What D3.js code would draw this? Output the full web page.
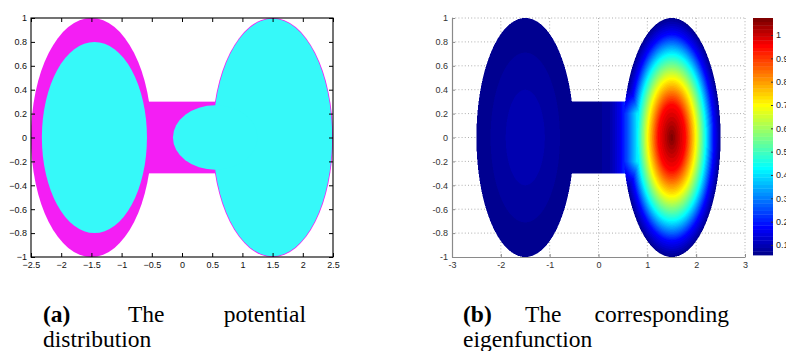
<!DOCTYPE html>
<html>
<head>
<meta charset="utf-8">
<script src="https://cdn.jsdelivr.net/npm/d3@7"></script>
<style>
  body { margin: 0; background: #fff; }
  svg { display: block; }
  .tick text { font-family: "Liberation Sans", Arial, sans-serif; font-size: 9px; }
  .cap { font-family: "Liberation Serif", "Times New Roman", serif; font-size: 23.5px; fill: #000; }
</style>
</head>
<body>
<svg id="fig" width="786" height="351"></svg>
<script>
// tick values
const xTicksA = [-2.5, -2, -1.5, -1, -0.5, 0, 0.5, 1, 1.5, 2, 2.5];
const xTicksB = [-3, -2, -1, 0, 1, 2, 3];
const yTicks = [-1, -0.8, -0.6, -0.4, -0.2, 0, 0.2, 0.4, 0.6, 0.8, 1];
const cbTicks = [0.1, 0.2, 0.3, 0.4, 0.5, 0.6, 0.7, 0.8, 0.9, 1];

// domain: two elliptic wells joined by a channel (data units)
const wellCx = [-1.5, 1.5];
const wellR = [1, 1];
const channelX = [-0.6, 0.6];
const channelHalf = 0.3;

// potential (panel a): cyan zones inside the magenta domain
const innerLeft = [-1.45, 0.87, 0.8];   // cx, rx, ry
const bump = [0.55, 0.7, 0.27];         // cx, rx, ry

// eigenfunction (panel b)
const rightProfileR = [0, 0.28, 0.5, 0.69, 0.86, 1];
const rightProfileV = [1.07, 0.946, 0.692, 0.438, 0.184, 0.062];
const leftRingR = [0.4, 0.71, 1.0];
const leftRingV = [0.096, 0.08, 0.065];
const chanProfX = [-0.6, 0, 0.25, 0.45, 0.6, 0.8];
const chanProfV = [0.062, 0.066, 0.09, 0.16, 0.26, 0.42];
const cbDomain = [0.057, 1.073];

// jet colormap
const jetStops = [0, 0.11, 0.365, 0.635, 0.89, 1];
const jetColors = ["#000090", "#0000ff", "#00ffff", "#ffff00", "#ff0000", "#800000"];

const svg = d3.select("#fig");
const magenta = "#f41ef4", cyan = "#36f9f9";

// ---------- panel (a) ----------
const xA = d3.scaleLinear().domain([-2.5, 2.5]).range([31, 333]);
const yA = d3.scaleLinear().domain([-1, 1]).range([257, 18]);
const gA = svg.append("g");

function ellipse(g, x, y, cx, rx, ry, fill) {
  return g.append("ellipse")
    .attr("cx", x(cx)).attr("cy", y(0))
    .attr("rx", x(cx + rx) - x(cx)).attr("ry", y(0) - y(ry))
    .attr("fill", fill);
}

ellipse(gA, xA, yA, wellCx[0], wellR[0], wellR[0], magenta);
gA.append("rect")
  .attr("x", xA(channelX[0])).attr("y", yA(channelHalf))
  .attr("width", xA(channelX[1]) - xA(channelX[0]))
  .attr("height", yA(-channelHalf) - yA(channelHalf))
  .attr("fill", magenta);
ellipse(gA, xA, yA, wellCx[1], wellR[1], wellR[1], magenta);
ellipse(gA, xA, yA, wellCx[1], wellR[1], wellR[1], cyan)
  .attr("rx", xA(wellCx[1] + wellR[1]) - xA(wellCx[1]) - 0.8)
  .attr("ry", yA(0) - yA(wellR[1]) - 0.8);
ellipse(gA, xA, yA, innerLeft[0], innerLeft[1], innerLeft[2], cyan);
ellipse(gA, xA, yA, bump[0], bump[1], bump[2], cyan);

const fmtA = d => String(d).replace("-", "\u2212");
gA.append("g").attr("transform", `translate(0,${yA(-1)})`)
  .call(d3.axisBottom(xA).tickValues(xTicksA).tickFormat(fmtA).tickSizeInner(-4).tickSizeOuter(0).tickPadding(5));
gA.append("g").attr("transform", `translate(0,${yA(1)})`)
  .call(d3.axisTop(xA).tickValues(xTicksA).tickFormat("").tickSizeInner(-4).tickSizeOuter(0));
gA.append("g").attr("transform", `translate(${xA(-2.5)},0)`)
  .call(d3.axisLeft(yA).tickValues(yTicks).tickFormat(fmtA).tickSizeInner(-4).tickSizeOuter(0).tickPadding(4));
gA.append("g").attr("transform", `translate(${xA(2.5)},0)`)
  .call(d3.axisRight(yA).tickValues(yTicks).tickFormat("").tickSizeInner(-4).tickSizeOuter(0));
gA.selectAll(".domain").remove();
gA.selectAll(".tick line").attr("stroke", "#000");
gA.selectAll(".tick text").attr("fill", "#111");
gA.append("rect")
  .attr("x", xA(-2.5)).attr("y", yA(1))
  .attr("width", xA(2.5) - xA(-2.5)).attr("height", yA(-1) - yA(1))
  .attr("fill", "none").attr("stroke", "#000").attr("stroke-width", 1.1);

// ---------- panel (b) ----------
const xB = d3.scaleLinear().domain([-3, 3]).range([452, 745]);
const yB = d3.scaleLinear().domain([-1, 1]).range([257, 18]);
const gB = svg.append("g");

// dotted grid
gB.append("g").selectAll("line").data(xTicksB.slice(1)).join("line")
  .attr("x1", d => xB(d)).attr("x2", d => xB(d))
  .attr("y1", yB(1)).attr("y2", yB(-1));
gB.append("g").selectAll("line").data(yTicks.slice(1)).join("line")
  .attr("x1", xB(-3)).attr("x2", xB(3))
  .attr("y1", d => yB(d)).attr("y2", d => yB(d));
gB.selectAll("line").attr("stroke", "#9a9a9a").attr("stroke-width", 0.8).attr("stroke-dasharray", "1,2.2");

// field
const jet = d3.scaleLinear().domain(jetStops).range(jetColors).interpolate(d3.interpolateRgb);
const nBins = 64;
const binColors = d3.range(nBins).map(k => d3.rgb(jet(k / (nBins - 1))));
const tScale = d3.scaleLinear().domain(cbDomain).range([0, 1]);
const binOf = v => Math.max(0, Math.min(nBins - 1, Math.floor(tScale(v) * nBins)));

const rightProfile = d3.scaleLinear().domain(rightProfileR).range(rightProfileV).clamp(true);
const chanProfile = d3.scaleLinear().domain(chanProfX).range(chanProfV).clamp(true);

function fieldValue(x, y) {
  const rl = Math.hypot((x - wellCx[0]) / wellR[0], y / wellR[0]);
  const rr = Math.hypot((x - wellCx[1]) / wellR[1], y / wellR[1]);
  if (rr <= 1) {
    let v = rightProfile(rr);
    const ay = Math.abs(y);
    const w = ay < 0.2 ? 1 : Math.max(0, 1 - (ay - 0.2) / 0.25);
    if (x < 0.85) v = Math.max(v, chanProfV[0] + (chanProfile(x) - chanProfV[0]) * w);
    return v;
  }
  if (rl <= 1) {
    const i = leftRingR.findIndex(r => rl <= r);
    return leftRingV[i];
  }
  if (Math.abs(y) <= channelHalf && x >= channelX[0] && x <= channelX[1]) return chanProfile(x);
  return null;
}

const ss = 2;
const pw = xB.range()[1] - xB.range()[0], ph = yB.range()[0] - yB.range()[1];
const canvas = document.createElement("canvas");
canvas.width = pw * ss; canvas.height = ph * ss;
const ctx = canvas.getContext("2d");
const img = ctx.createImageData(canvas.width, canvas.height);
for (let j = 0; j < canvas.height; j++) {
  const y = yB.invert(yB.range()[1] + (j + 0.5) / ss);
  for (let i = 0; i < canvas.width; i++) {
    const x = xB.invert(xB.range()[0] + (i + 0.5) / ss);
    const v = fieldValue(x, y);
    if (v === null) continue;
    const c = binColors[binOf(v)];
    const o = (j * canvas.width + i) * 4;
    img.data[o] = c.r; img.data[o + 1] = c.g; img.data[o + 2] = c.b; img.data[o + 3] = 255;
  }
}
ctx.putImageData(img, 0, 0);
gB.append("image")
  .attr("x", xB.range()[0]).attr("y", yB.range()[1])
  .attr("width", pw).attr("height", ph)
  .attr("preserveAspectRatio", "none")
  .attr("href", canvas.toDataURL());

const fmtB = d => String(d);
const axB = gB.append("g").attr("transform", `translate(0,${yB(-1)})`)
  .call(d3.axisBottom(xB).tickValues(xTicksB).tickFormat(fmtB).tickSizeInner(-3).tickSizeOuter(0).tickPadding(5));
const ayB = gB.append("g").attr("transform", `translate(${xB(-3)},0)`)
  .call(d3.axisLeft(yB).tickValues(yTicks).tickFormat(fmtB).tickSizeInner(-3).tickSizeOuter(0).tickPadding(4));
[axB, ayB].forEach(a => {
  a.select(".domain").attr("stroke", "#8a8a8a").attr("stroke-width", 1.2);
  a.selectAll(".tick line").attr("stroke", "#8a8a8a");
  a.selectAll(".tick text").attr("fill", "#333");
});

// colorbar
const cbY = d3.scaleLinear().domain(cbDomain).range([255, 18]);
const cbX0 = 753, cbW = 20;
const gC = svg.append("g");
gC.selectAll("rect").data(d3.range(nBins)).join("rect")
  .attr("x", cbX0).attr("width", cbW)
  .attr("y", k => cbY(cbDomain[0] + (k + 1) * (cbDomain[1] - cbDomain[0]) / nBins))
  .attr("height", (cbY.range()[0] - cbY.range()[1]) / nBins + 0.4)
  .attr("fill", k => binColors[k]);
gC.append("g").attr("transform", `translate(${cbX0 + cbW},0)`)
  .call(d3.axisRight(cbY).tickValues(cbTicks).tickFormat(d => String(d)).tickSizeInner(-2).tickSizeOuter(0).tickPadding(3))
  .call(g => g.select(".domain").remove())
  .call(g => g.selectAll(".tick line").attr("stroke", "#333"))
  .call(g => g.selectAll(".tick text").attr("fill", "#222"));

// ---------- captions ----------
const capA1 = [["(a)", 43, "bold", "start"], ["The", 128, "normal", "start"], ["potential", 306, "normal", "end"]];
const capB1 = [["(b)", 463, "bold", "start"], ["The", 525, "normal", "start"], ["corresponding", 729, "normal", "end"]];
const capLine2 = [["distribution", 43], ["eigenfunction", 463]];
svg.append("g").selectAll("text").data(capA1.concat(capB1)).join("text")
  .attr("class", "cap").attr("x", d => d[1]).attr("y", 322)
  .attr("font-weight", d => d[2]).attr("text-anchor", d => d[3])
  .text(d => d[0]);
svg.append("g").selectAll("text").data(capLine2).join("text")
  .attr("class", "cap").attr("x", d => d[1]).attr("y", 347)
  .text(d => d[0]);
</script>
</body>
</html>
